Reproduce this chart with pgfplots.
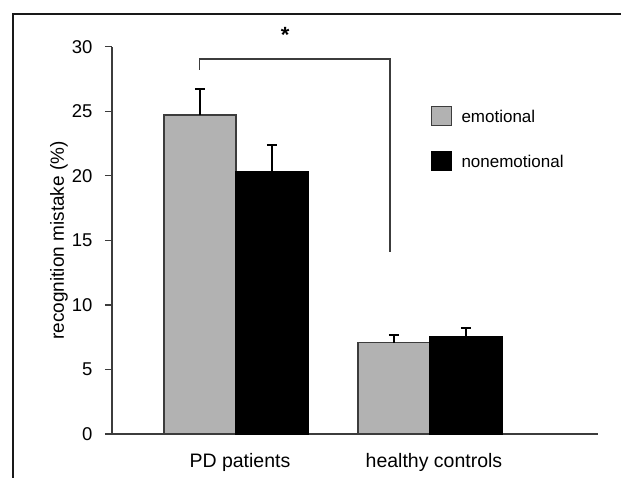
\documentclass[border=0pt]{standalone}
\usepackage{fontspec}
\setmainfont{Liberation Sans}
\usepackage{pgfplots}
\pgfplotsset{compat=1.18}
\definecolor{bargray}{RGB}{178,178,178}
\definecolor{edge}{RGB}{60,60,60}
\pgfplotsset{mylegend/.style={legend image code/.code={\draw[##1,line width=1pt] (0pt,-3.3pt) rectangle (20pt,15.7pt);}}}
\pgfplotstableread{
x y err
0 24.7 2.0
1 7.07 0.58
}\emo
\pgfplotstableread{
x y err
0 20.3 2.1
1 7.57 0.62
}\nonemo
\begin{document}
\begin{tikzpicture}
\useasboundingbox (0,0) rectangle (621pt,478pt);
\draw[line width=2.5pt, black!90] (13pt,0pt) -- (13pt,464pt) -- (621pt,464pt);
\begin{axis}[
  at={(112pt,44pt)}, anchor=south west,
  scale only axis, width=486pt, height=387.3pt,
  xmin=-0.639, xmax=1.866, ymin=0, ymax=30,
  enlargelimits=false, clip=false,
  axis x line=bottom, axis y line=left,
  axis line style={edge, line width=1.3pt, -},
  ytick={0,5,...,30},
  xtick={0,1}, xticklabels={PD patients, healthy controls},
  x tick style={draw=none},
  y tick style={edge, line width=1.3pt},
  tick align=outside, major tick length=7pt,
  /pgf/number format/assume math mode=true,
  yticklabel style={font=\fontsize{18.5}{22}\selectfont, xshift=-9pt},
  xticklabel style={font=\fontsize{19.5}{23}\selectfont, text height=14pt, yshift=-8.6pt, xshift=4pt},
  ylabel={recognition mistake (\%)},
  ylabel style={font=\fontsize{19}{23}\selectfont, at={(axis description cs:-0.0988,0.5)}, anchor=base},
  ybar, bar width=0.371,
  legend style={at={(0.6564,0.8469)}, anchor=north west, draw=none, fill=none,
    inner sep=0pt, outer sep=0pt, font=\fontsize{17}{20}\selectfont,
    row sep=25.5pt, column sep=9.5pt,
    nodes={inner sep=0pt, outer sep=0pt, anchor=base west}},
]
\addplot[bar shift=-0.1855, fill=bargray, draw=edge, line width=1.3pt,
  error bars/.cd, y dir=plus, y explicit,
  error bar style={black, line width=2pt},
  error mark options={rotate=90, black, line width=2pt, mark size=5pt},
  /pgfplots/.cd, mylegend] table[x=x, y=y, y error=err] {\emo};
\addlegendentry{emotional}
\addplot[bar shift=0.1855, fill=black, draw=black, line width=1.3pt,
  error bars/.cd, y dir=plus, y explicit,
  error bar style={black, line width=2pt},
  error mark options={rotate=90, black, line width=2pt, mark size=5pt},
  /pgfplots/.cd, mylegend] table[x=x, y=y, y error=err] {\nonemo};
\addlegendentry{nonemotional}
\addplot[sharp plot, no marks, edge, line width=1.1pt, forget plot]
  coordinates {(-0.186,28.2) (-0.186,29.05) (0.794,29.05) (0.794,14.1)};
\node[font=\bfseries\fontsize{22}{26}\selectfont, anchor=base] at (axis cs:0.253,30.3) {*};
\end{axis}
\end{tikzpicture}
\end{document}
